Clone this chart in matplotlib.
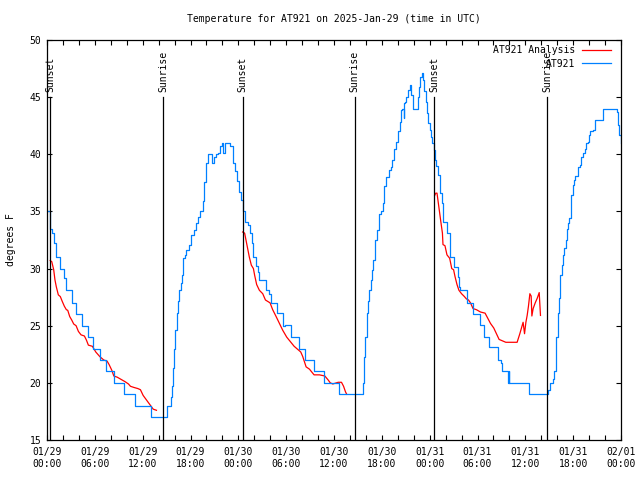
import datetime as dt
import numpy as np
import matplotlib
matplotlib.use('Agg')
import matplotlib.pyplot as plt
import matplotlib.dates as mdates

# hours after 2025-01-29 00:00 UTC
obs_hours = [0.0, 0.35, 0.6, 0.85, 1.1, 1.6, 2.15, 2.35, 3.1, 3.7, 4.45, 5.15, 5.8, 6.7, 7.45,
             8.4, 9.65, 11.0, 13.1, 15.0, 15.55, 15.65, 15.8, 15.9, 16.05, 16.25, 16.4, 16.6,
             16.75, 16.9, 17.1, 17.25, 17.45, 17.75, 18.1, 18.45, 18.7, 19.0, 19.2, 19.6, 19.75,
             19.95, 20.25, 20.75, 20.95, 21.2, 21.5, 21.7, 21.95, 22.1, 22.35, 23.0, 23.3, 23.55,
             23.8, 24.05, 24.3, 24.55, 24.85, 25.2, 25.45, 25.7, 25.9, 26.2, 26.45, 26.65, 27.5,
             27.8, 28.05, 28.9, 29.55, 29.9, 30.65, 31.6, 32.4, 33.5, 34.75, 36.6, 39.6, 39.8,
             39.95, 40.1, 40.3, 40.45, 40.6, 40.8, 40.95, 41.1, 41.4, 41.7, 41.95, 42.15, 42.3,
             42.55, 42.9, 43.15, 43.3, 43.5, 43.8, 44.05, 44.25, 44.4, 44.55, 44.75, 44.8, 44.9,
             45.05, 45.3, 45.55, 45.7, 45.85, 46.5, 46.65, 46.8, 47.0, 47.15, 47.3, 47.5, 47.65,
             47.85, 48.0, 48.15, 48.35, 48.5, 48.65, 48.85, 49.1, 49.25, 49.35, 49.5, 49.65,
             50.15, 50.6, 51.1, 51.5, 51.65, 51.85, 52.7, 53.45, 54.35, 54.85, 55.45, 56.6, 56.9,
             57.1, 57.8, 57.9, 58.0, 60.5, 62.9, 63.15, 63.5, 63.65, 63.85, 63.9, 64.1, 64.2,
             64.35, 64.4, 64.6, 64.75, 64.9, 65.1, 65.2, 65.35, 65.5, 65.7, 65.75, 65.95, 66.1,
             66.25, 66.6, 66.85, 67.0, 67.25, 67.45, 67.6, 67.85, 68.0, 68.15, 68.45, 68.7, 69.7,
             69.8, 71.3, 71.45, 71.6, 71.8, 71.95, 72.0]
obs_temp = [35.0, 33.5, 33.1, 32.2, 31.0, 30.0, 29.2, 28.1, 27.0, 26.0, 25.0, 24.0, 23.0, 22.0, 21.0,
            20.0, 19.0, 18.0, 17.0, 18.0, 18.8, 19.7, 21.3, 23.0, 24.6, 26.1, 27.2, 28.1,
            28.7, 29.4, 30.9, 31.2, 31.6, 32.1, 32.9, 33.4, 34.0, 34.5, 35.0, 35.9, 37.6,
            39.2, 40.0, 39.2, 39.8, 40.0, 40.1, 40.7, 41.0, 40.1, 41.0, 40.7, 39.2, 38.5,
            37.7, 36.7, 36.0, 35.0, 34.1, 33.8, 33.1, 32.2, 31.0, 30.2, 29.7, 29.0, 28.1,
            27.8, 27.0, 26.1, 25.0, 25.1, 24.0, 23.0, 22.0, 21.0, 20.0, 19.0, 20.0, 22.3,
            24.0, 26.1, 27.2, 28.1, 29.0, 29.9, 30.75, 32.5, 33.4, 34.8, 35.0, 35.7, 37.2,
            38.0, 38.6, 38.9, 39.5, 40.5, 41.1, 42.0, 42.85, 43.9, 44.0, 43.2, 44.5, 44.6,
            45.0, 45.6, 46.1, 45.2, 44.0, 45.0, 45.9, 46.8, 47.1, 46.5, 45.5, 44.6, 43.6,
            42.7, 42.1, 41.5, 41.0, 40.4, 39.5, 39.0, 38.2, 37.3, 36.6, 35.7, 34.1,
            33.1, 31.0, 30.1, 29.3, 28.4, 28.1, 27.0, 26.0, 25.1, 24.0, 23.1, 22.0, 21.7,
            21.0, 20.0, 21.0, 20.0, 19.0, 19.4, 20.0, 20.3, 21.0, 22.0, 24.0, 26.1, 27.4,
            28.6, 29.4, 30.3, 31.2, 31.8, 32.5, 33.5, 34.0, 34.4, 35.6, 36.4, 37.3, 37.75,
            38.1, 38.9, 39.1, 39.8, 40.1, 40.5, 41.0, 41.1, 41.7, 42.0, 42.1, 43.0, 43.7,
            44.0, 44.0, 43.7, 42.6, 41.7, 41.1, 41.0]

ana_hours = [0.41, 0.6, 0.84, 1.0, 1.17, 1.42, 1.67, 1.93, 2.18, 2.43, 2.6, 2.85, 3.1, 3.35, 3.65,
             3.94, 4.27, 4.69, 4.94, 5.19, 5.69, 6.12, 6.62, 7.12, 7.54, 7.79, 8.13, 8.38, 8.8,
             9.3, 9.8, 10.22, 10.47, 10.9, 11.4, 11.72, 12.06, 12.48, 12.9, 13.32, 13.73,
             np.nan,
             24.54, 24.79, 24.96, 25.22, 25.38, 25.63, 25.89, 26.05, 26.3, 26.64, 27.06, 27.4,
             27.98, 28.31, 28.74, 29.15, 29.57, 30.07, 30.66, 31.0, 31.5, 31.83, 32.08, 32.5,
             32.92, 33.5, 34.18, 34.85, 35.27, 35.53, 35.85, 36.27, 36.52, 36.94, 37.2, 37.45, 37.6,
             np.nan,
             48.63, 48.76, 48.92, 49.09, 49.26, 49.42, 49.6, 49.67, 49.92, 50.17, 50.51, 50.77,
             51.0, 51.18, 51.43, 51.67, 52.0, 52.36, 52.6, 52.87, 53.12, 53.44, 53.87, 54.37,
             54.95, 55.29, 55.63, 56.04, 56.38, 56.71, 57.05, 57.55, 58.3, 58.97, 59.31, 59.56,
             59.72, 59.9, 60.07, 60.23, 60.39, 60.57, 60.73, 60.82, 60.98, 61.24, 61.49, 61.74, 61.9]
ana_temp = [30.7, 30.6, 29.9, 29.0, 28.4, 27.7, 27.55, 27.1, 26.7, 26.4, 26.35, 25.8, 25.5, 25.15, 25.0,
            24.5, 24.2, 24.1, 23.75, 23.3, 23.2, 22.7, 22.3, 22.0, 21.9, 21.6, 21.1, 20.6, 20.5,
            20.3, 20.1, 19.9, 19.7, 19.6, 19.5, 19.4, 18.9, 18.5, 18.1, 17.7, 17.6,
            np.nan,
            33.2, 33.1, 32.5, 31.6, 31.0, 30.3, 30.0, 29.4, 28.6, 28.1, 27.8, 27.25,
            27.0, 26.4, 25.8, 25.2, 24.6, 24.0, 23.5, 23.2, 22.9, 22.7, 22.3, 21.4,
            21.2, 20.7, 20.7, 20.6, 20.25, 20.0, 19.9, 20.0, 20.05, 20.05, 19.7, 19.2, 19.0,
            np.nan,
            36.4, 36.6, 36.6, 35.7, 34.8, 34.0, 33.1, 32.1, 32.0, 31.2, 30.9, 30.0,
            29.9, 29.3, 28.6, 28.1, 27.8, 27.55, 27.35, 27.25, 27.0, 26.5, 26.4, 26.2,
            26.1, 25.65, 25.2, 24.8, 24.3, 23.8, 23.7, 23.55, 23.55, 23.55, 24.3, 24.9,
            25.3, 24.3, 25.3, 25.9, 26.7, 27.8, 27.6, 25.85, 26.5, 27.0, 27.4, 27.9, 25.9]

sun_hours = [0.41, 14.6, 24.54, 38.6, 48.6, 62.72]
sun_labels = ['Sunset', 'Sunrise', 'Sunset', 'Sunrise', 'Sunset', 'Sunrise']

start = dt.datetime(2025, 1, 29)
def to_time(hours):
    return [start + dt.timedelta(hours=float(h)) if not np.isnan(h) else None for h in hours]

plt.rcParams['font.family'] = ['DejaVu Sans Mono']
plt.rcParams['font.size'] = 7

fig = plt.figure(figsize=(6.4, 4.8), dpi=100)
ax = fig.add_axes([47/640, 40/480, 574/640, 400/480])

ana_x = [mdates.date2num(t) if t is not None else np.nan for t in to_time(ana_hours)]
ax.plot(ana_x, ana_temp, color='#ff0000', lw=0.9, label='AT921 Analysis')
ax.plot(to_time(obs_hours), obs_temp, color='#0080ff', lw=0.9, drawstyle='steps-post', label='AT921')

for h, lab in zip(sun_hours, sun_labels):
    t = start + dt.timedelta(hours=h)
    ax.plot([t, t], [45, 15], color='black', lw=0.9)
    ax.text(t, 45.45, lab, rotation=90, ha='center', va='bottom', fontsize=7)

ax.set_xlim(start, start + dt.timedelta(hours=72))
ax.set_ylim(15, 50)
ax.set_yticks(range(15, 51, 5))
ax.xaxis.set_major_locator(mdates.HourLocator(byhour=[0, 6, 12, 18]))
ax.xaxis.set_minor_locator(mdates.HourLocator(interval=2))
ax.xaxis.set_major_formatter(mdates.DateFormatter('%m/%d\n%H:%M'))
ax.tick_params(which='both', direction='in', top=True, right=True, length=3.5, width=0.8)
ax.tick_params(axis='x', pad=5)
ax.tick_params(axis='y', pad=4)
for sp in ax.spines.values():
    sp.set_linewidth(0.9)

ax.set_ylabel('degrees F', labelpad=10, fontsize=7)
ax.set_title('Temperature for AT921 on 2025-Jan-29 (time in UTC)', pad=13, fontsize=7)
ax.legend(loc='upper right', bbox_to_anchor=(0.982, 0.987), frameon=False, markerfirst=False,
          handlelength=3, handletextpad=0.6, labelspacing=0.35, borderpad=0, borderaxespad=0,
          fontsize=7)

fig.savefig('out.png', dpi=100)
